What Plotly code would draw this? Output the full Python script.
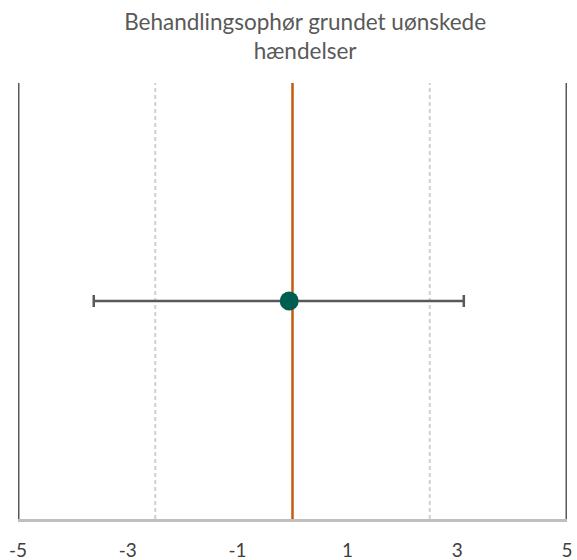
import plotly.graph_objects as go

# Data
labels = ["Behandlingsophør grundet uønskede hændelser"]
estimate = [-0.06]
lower = [-3.62]
upper = [3.12]
tick_vals = [-5, -3, -1, 1, 3, 5]
tick_text = ["-5", "-3", "-1", "1", "3", "5"]
frame_lines = [-5, 5]
dashed_lines = [-2.5, 2.5]
null_line = [0]

fig = go.Figure()

for v in frame_lines:
    fig.add_vline(x=v, line=dict(color="#595959", width=3), layer="below")
for v in dashed_lines:
    fig.add_vline(x=v, line=dict(color="#CFCFCF", width=2, dash="4px,3px"), layer="below")
for v in null_line:
    fig.add_vline(x=v, line=dict(color="#C55A11", width=2.5), layer="below")

fig.add_trace(go.Scatter(
    x=estimate, y=[1],
    mode="markers",
    marker=dict(color="#005E50", size=19),
    error_x=dict(type="data", symmetric=False,
                 array=[u - e for u, e in zip(upper, estimate)],
                 arrayminus=[e - l for e, l in zip(estimate, lower)],
                 color="#595959", thickness=2.5, width=6),
    showlegend=False,
))

fig.update_layout(
    width=577, height=560,
    margin=dict(l=18, r=10, t=83, b=41, autoexpand=False),
    plot_bgcolor="white", paper_bgcolor="white",
    font=dict(family="Lato, Open Sans, sans-serif", color="#404040"),
    title=dict(text="Behandlingsophør grundet uønskede<br>hændelser",
               x=0.523, xref="paper", xanchor="center",
               yref="container", y=1 - 30 / 560, yanchor="middle",
               font=dict(size=22.5, color="#595959")),
    xaxis=dict(range=[-5, 5], tickvals=tick_vals, ticktext=tick_text,
               showgrid=False, zeroline=False, showline=True,
               linecolor="#BFBFBF", linewidth=3, ticks="", automargin=False,
               ticklabelstandoff=12, tickfont=dict(size=19, color="#404040")),
    yaxis=dict(range=[0, 2], visible=False, showgrid=False, zeroline=False,
               automargin=False),
)

fig.write_html(
    "out.html",
    config={"displayModeBar": False},
    post_script="document.body.style.margin='0';document.body.style.overflow='hidden';",
)
